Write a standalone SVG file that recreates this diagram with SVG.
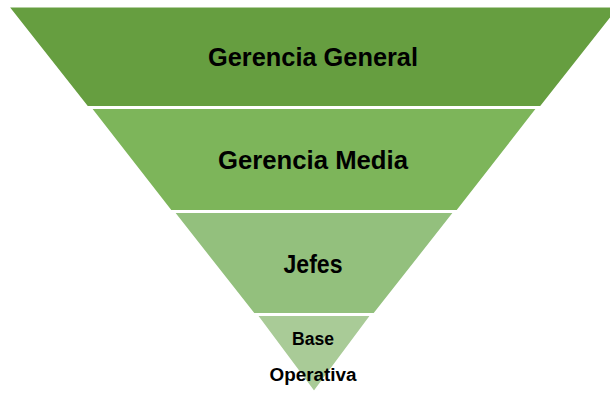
<svg xmlns="http://www.w3.org/2000/svg" width="610" height="394" viewBox="0 0 610 394">
  <style>
    .band { stroke: #ffffff; stroke-width: 3; stroke-linejoin: miter; }
    .lvl1 { fill: #669e40; }
    .lvl2 { fill: #7db55a; }
    .lvl3 { fill: #93c07d; }
    .lvl4 { fill: #a9cb97; }
    .label { font-family: "Liberation Sans", Arial, sans-serif; font-weight: bold; fill: #000000; text-anchor: middle; }
  </style>
  <rect width="610" height="394" fill="#ffffff"/>

  <!-- inverted pyramid, widest level on top -->
  <g id="gerencia-general">
    <polygon class="band lvl1" points="7,6 621,6 541,107.5 87,107.5"/>
    <text class="label" x="313" y="66" font-size="26" textLength="210" lengthAdjust="spacingAndGlyphs">Gerencia General</text>
  </g>
  <g id="gerencia-media">
    <polygon class="band lvl2" points="89.5,107.5 538.5,107.5 457.5,211.5 170.5,211.5"/>
    <text class="label" x="313" y="169" font-size="26" textLength="190" lengthAdjust="spacingAndGlyphs">Gerencia Media</text>
  </g>
  <g id="jefes">
    <polygon class="band lvl3" points="172.5,211.5 455.5,211.5 374.5,314.5 253.5,314.5"/>
    <text class="label" x="313" y="273" font-size="25" textLength="59" lengthAdjust="spacingAndGlyphs">Jefes</text>
  </g>
  <g id="base-operativa">
    <polygon class="band lvl4" points="255.5,314.5 372.5,314.5 314,393"/>
    <text class="label" x="313" y="345" font-size="18" textLength="42" lengthAdjust="spacingAndGlyphs">Base</text>
    <text class="label" x="313" y="381" font-size="18" textLength="87" lengthAdjust="spacingAndGlyphs">Operativa</text>
  </g>
</svg>
